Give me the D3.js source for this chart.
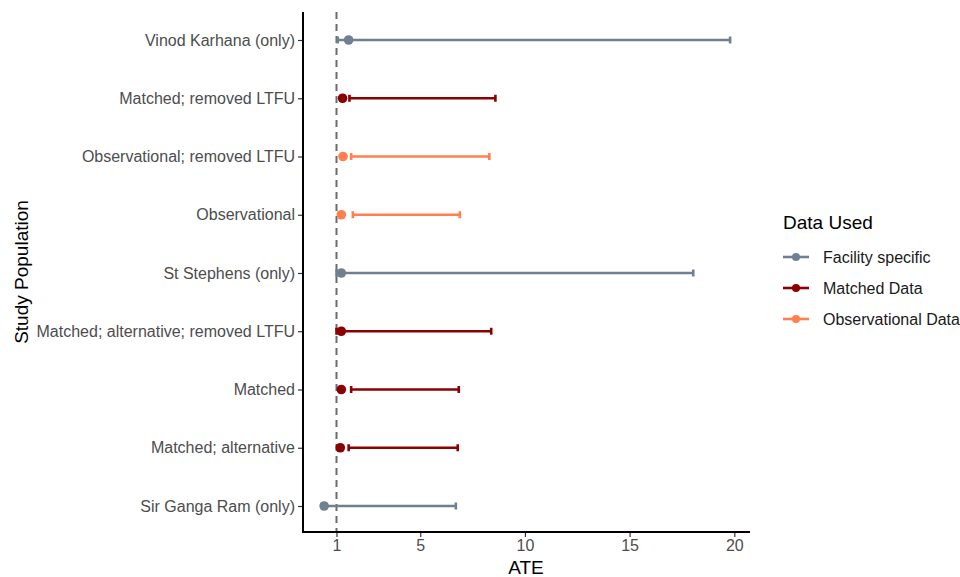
<!DOCTYPE html>
<html>
<head>
<meta charset="utf-8">
<script src="https://cdn.jsdelivr.net/npm/d3@7"></script>
<style>
  body { margin: 0; background: #fff; }
  text { font-family: "Liberation Sans", Arial, sans-serif; }
</style>
</head>
<body>
<div id="chart"></div>
<script>
// study populations, top to bottom
var populations = [
  "Vinod Karhana (only)",
  "Matched; removed LTFU",
  "Observational; removed LTFU",
  "Observational",
  "St Stephens (only)",
  "Matched; alternative; removed LTFU",
  "Matched",
  "Matched; alternative",
  "Sir Ganga Ram (only)"
];
var dataUsed = ["Facility specific", "Matched Data", "Observational Data", "Observational Data", "Facility specific", "Matched Data", "Matched Data", "Matched Data", "Facility specific"];
var ate   = [1.58, 1.29, 1.31, 1.23, 1.23, 1.23, 1.23, 1.18, 0.41];
var lower = [1.06, 1.62, 1.70, 1.78, 1.00, 1.00, 1.70, 1.58, 0.41];
var upper = [19.8, 8.59, 8.30, 6.89, 18.04, 8.39, 6.84, 6.79, 6.70];
var xTicks = [1, 5, 10, 15, 20];
var groups = ["Facility specific", "Matched Data", "Observational Data"];
var groupColors = ["#708090", "#8B0000", "#FF7F50"];

var width = 960, height = 577;
var svg = d3.select("#chart").append("svg")
  .attr("width", width)
  .attr("height", height);

var x = d3.scaleLinear().domain([-0.6, 20.75]).range([303, 750]);
var y = d3.scalePoint().domain(populations).range([40, 506]);
var color = d3.scaleOrdinal().domain(groups).range(groupColors);

var rows = populations.map(function (p, i) {
  return { pop: p, group: dataUsed[i], ate: ate[i], lo: lower[i], hi: upper[i] };
});

// reference line at 1
svg.append("line")
  .attr("x1", x(1)).attr("x2", x(1))
  .attr("y1", 12).attr("y2", 532)
  .attr("stroke", "#6b6b6b")
  .attr("stroke-width", 2)
  .attr("stroke-dasharray", "7,5");

// error bars
var g = svg.append("g");
rows.forEach(function (d) {
  var c = color(d.group), yy = y(d.pop);
  g.append("line")
    .attr("x1", x(d.lo)).attr("x2", x(d.hi))
    .attr("y1", yy).attr("y2", yy)
    .attr("stroke", c).attr("stroke-width", 2.6);
  [d.lo, d.hi].forEach(function (v) {
    g.append("line")
      .attr("x1", x(v)).attr("x2", x(v))
      .attr("y1", yy - 3.5).attr("y2", yy + 3.5)
      .attr("stroke", c).attr("stroke-width", 2.6);
  });
  g.append("circle")
    .attr("cx", x(d.ate)).attr("cy", yy)
    .attr("r", 4.8)
    .attr("fill", c);
});

// axes
var xAxis = svg.append("g")
  .attr("transform", "translate(0,532)")
  .call(d3.axisBottom(x).tickValues(xTicks).tickSize(5).tickPadding(3));
var yAxis = svg.append("g")
  .attr("transform", "translate(303,0)")
  .call(d3.axisLeft(y).tickSize(5).tickPadding(3));

[xAxis, yAxis].forEach(function (a) {
  a.select(".domain").remove();
  a.selectAll(".tick line").attr("stroke", "#333").attr("stroke-width", 1.2);
  a.selectAll(".tick text")
    .attr("fill", "#4d4d4d")
    .style("font-size", "16px")
    .style("font-family", "'Liberation Sans', Arial, sans-serif");
});

svg.append("line")
  .attr("x1", 303).attr("x2", 750).attr("y1", 532).attr("y2", 532)
  .attr("stroke", "#000").attr("stroke-width", 2);
svg.append("line")
  .attr("x1", 303).attr("x2", 303).attr("y1", 12).attr("y2", 533)
  .attr("stroke", "#000").attr("stroke-width", 2);

// axis titles
svg.append("text")
  .attr("x", 526).attr("y", 574)
  .attr("text-anchor", "middle")
  .style("font-size", "19px")
  .text("ATE");
svg.append("text")
  .attr("transform", "translate(28,272) rotate(-90)")
  .attr("text-anchor", "middle")
  .style("font-size", "19px")
  .text("Study Population");

// legend
var legend = svg.append("g").attr("transform", "translate(783,0)");
legend.append("text")
  .attr("x", 0).attr("y", 229)
  .style("font-size", "19px")
  .text("Data Used");
groups.forEach(function (grp, i) {
  var ly = 257 + i * 31;
  legend.append("line")
    .attr("x1", 0).attr("x2", 26).attr("y1", ly).attr("y2", ly)
    .attr("stroke", color(grp)).attr("stroke-width", 2.6);
  legend.append("circle")
    .attr("cx", 13).attr("cy", ly).attr("r", 4)
    .attr("fill", color(grp));
  legend.append("text")
    .attr("x", 40).attr("y", ly + 6)
    .attr("fill", "#1a1a1a")
    .style("font-size", "16px")
    .text(grp);
});
</script>
</body>
</html>
